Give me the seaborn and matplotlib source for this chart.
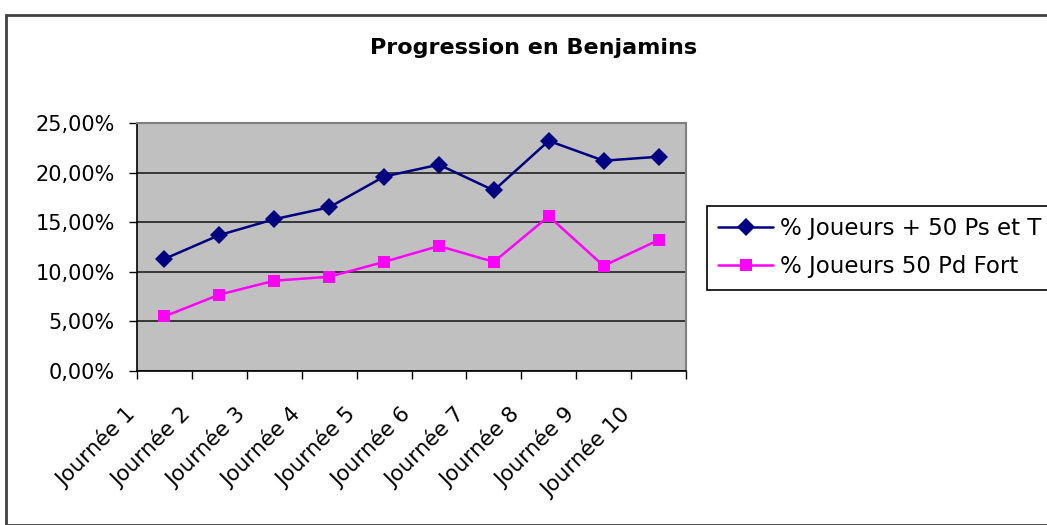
import matplotlib
matplotlib.use("Agg")
import matplotlib.pyplot as plt
import matplotlib.transforms as mtransforms
import seaborn as sns
import pandas as pd
import numpy as np
from matplotlib.patches import Rectangle
from matplotlib.ticker import FuncFormatter, FixedLocator

categories = ["Journée 1", "Journée 2", "Journée 3", "Journée 4", "Journée 5",
              "Journée 6", "Journée 7", "Journée 8", "Journée 9", "Journée 10"]
serie_ps_t = [11.3, 13.7, 15.3, 16.5, 19.6, 20.8, 18.2, 23.2, 21.2, 21.6]
serie_pd_fort = [5.5, 7.7, 9.1, 9.5, 11.0, 12.6, 11.0, 15.6, 10.6, 13.2]
series_names = ["% Joueurs + 50 Ps et T", "% Joueurs 50 Pd Fort"]
title = "Progression en Benjamins"

sns.set_theme(style="white")
plt.rcParams['font.family'] = ['DejaVu Sans']
plt.rcParams['text.color'] = 'black'
plt.rcParams['xtick.color'] = 'black'
plt.rcParams['ytick.color'] = 'black'
plt.rcParams['xtick.labelcolor'] = 'black'
plt.rcParams['ytick.labelcolor'] = 'black'

W, H = 1047, 525
fig = plt.figure(figsize=(W / 100, H / 100), dpi=100)
fig.patch.set_facecolor("white")

# outer chart border
fig.add_artist(Rectangle((5.5 / W, 0), 1.2, 1 - 14.5 / H, transform=fig.transFigure,
                         fill=False, edgecolor="#404040", linewidth=2))

L, R, T, B = 137, 686, 123, 371
ax = fig.add_axes([L / W, 1 - B / H, (R - L) / W, (B - T) / H])
ax.set_facecolor("#C0C0C0")

idx = list(range(len(categories)))
df = pd.DataFrame({
    "x": idx * 2,
    "y": serie_ps_t + serie_pd_fort,
    "serie": [series_names[0]] * len(idx) + [series_names[1]] * len(idx),
})

sns.lineplot(data=df, x="x", y="y", hue="serie", style="serie",
             palette={series_names[0]: "#000080", series_names[1]: "#FF00FF"},
             markers={series_names[0]: "D", series_names[1]: "s"},
             dashes=False, markersize=9, markeredgewidth=0, linewidth=1.8,
             ax=ax, legend=True, zorder=3)

ax.set_xlim(-0.5, len(categories) - 0.5)
ax.set_ylim(0, 25)
ax.yaxis.set_major_locator(FixedLocator([0, 5, 10, 15, 20, 25]))
ax.yaxis.set_major_formatter(FuncFormatter(lambda v, p: f"{v:.2f}".replace(".", ",") + "%"))
ax.grid(axis="y", color="#202020", linewidth=1.2, zorder=1)
ax.set_axisbelow(True)

ax.set_xticks(np.arange(-0.5, len(categories), 1.0))
ax.set_xticklabels([])
ax.set_xticks(idx, minor=True)
ax.set_xticklabels(categories, minor=True, rotation=45, ha="right",
                   rotation_mode="anchor", fontsize=15.5)
ax.tick_params(axis="x", which="major", direction="out", length=6, width=1,
               color="black", bottom=True)
ax.tick_params(axis="x", which="minor", length=0, pad=12)
ax.tick_params(axis="y", direction="out", length=6, width=1, color="black",
               left=True, labelsize=15, pad=10)
ax.set_xlabel("")
ax.set_ylabel("")

shift = mtransforms.ScaledTranslation(-40 / 100, -16 / 100, fig.dpi_scale_trans)
for lab in ax.get_xticklabels(minor=True):
    lab.set_transform(lab.get_transform() + shift)

for s in ["left", "bottom"]:
    ax.spines[s].set_color("black")
    ax.spines[s].set_linewidth(1.2)
for s in ["top", "right"]:
    ax.spines[s].set_color("#808080")
    ax.spines[s].set_linewidth(1.5)

handles, labels = ax.get_legend_handles_labels()
ax.get_legend().remove()
leg = fig.legend(handles, labels, loc="upper left",
                 bbox_to_anchor=(707 / W, 1 - 206 / H), bbox_transform=fig.transFigure,
                 frameon=True, fancybox=False, edgecolor="black", fontsize=16.5,
                 handlelength=2.4, handletextpad=0.3, labelspacing=0.64,
                 borderpad=0.5, borderaxespad=0, framealpha=1)
leg.get_frame().set_linewidth(1.2)
for t in leg.get_texts():
    t.set_color("black")

fig.text(534 / W, 1 - 48 / H, title, ha="center", va="center",
         fontsize=16, fontweight="bold", color="black")

fig.savefig("out.png", dpi=100)
